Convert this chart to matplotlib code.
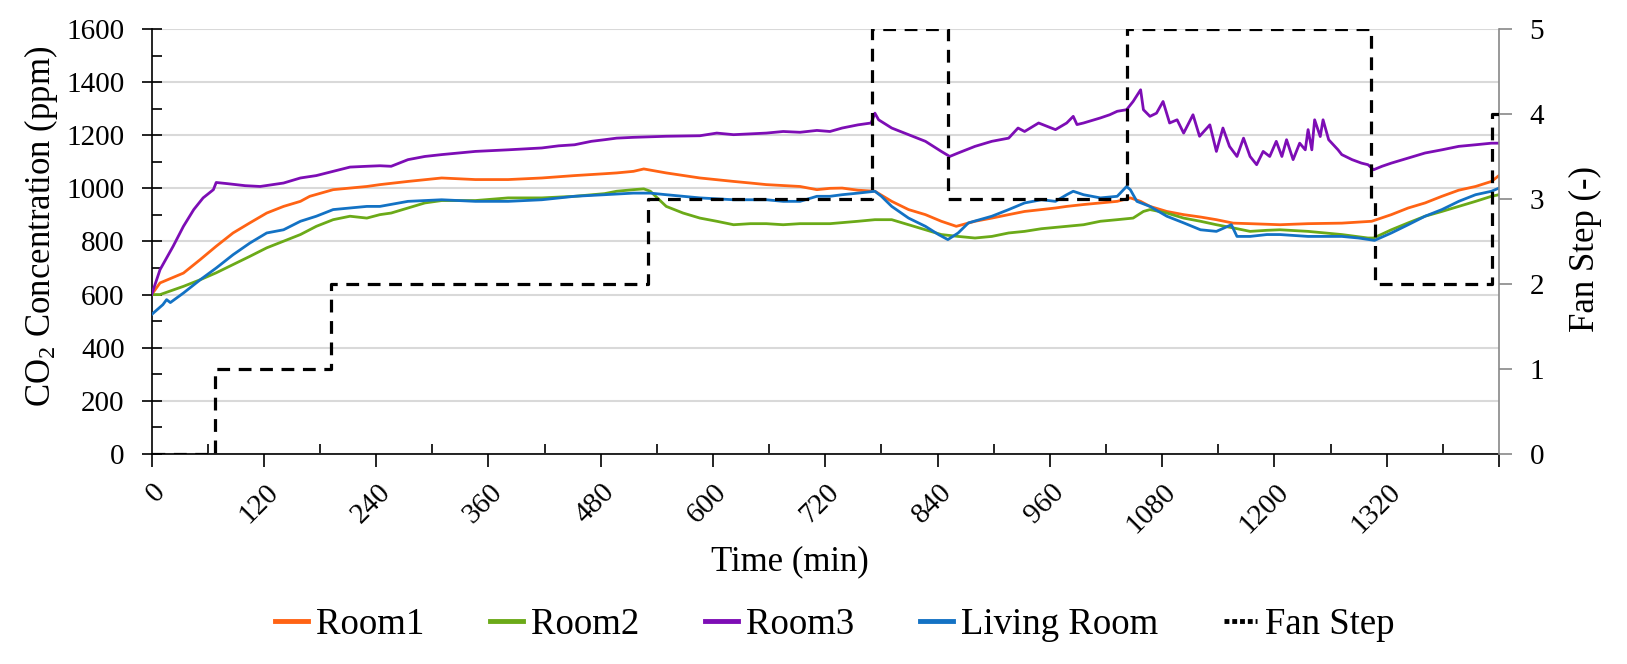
import matplotlib
matplotlib.use('Agg')
import matplotlib.pyplot as plt
from matplotlib.lines import Line2D
from matplotlib.ticker import MultipleLocator
from matplotlib.transforms import ScaledTranslation

# Times-like serif everywhere
plt.rcParams['font.family'] = 'Liberation Serif'
plt.rcParams['mathtext.fontset'] = 'custom'
plt.rcParams['mathtext.rm'] = 'Liberation Serif'
plt.rcParams['mathtext.default'] = 'regular'

# CO2 readings (min, ppm)
t_room1 = [0, 9, 34, 52, 69, 87, 105, 123, 141, 159,
           169, 194, 212, 230, 244, 274, 310, 346, 381, 417,
           452, 484, 497, 515, 526, 550, 586, 622, 640, 657,
           693, 711, 725, 738, 755, 773, 791, 809, 827, 844,
           860, 880, 898, 916, 933, 951, 966, 978, 996, 1014,
           1032, 1046, 1057, 1067, 1085, 1103, 1121, 1138, 1156, 1174,
           1206, 1236, 1272, 1304, 1325, 1343, 1361, 1379, 1397, 1415,
           1432, 1440]
room1 = [600, 644, 681, 732, 782, 832, 870, 907, 932, 951,
         970, 995, 1001, 1007, 1014, 1026, 1039, 1033, 1033, 1039,
         1048, 1055, 1058, 1064, 1073, 1058, 1039, 1026, 1020, 1014,
         1007, 995, 1000, 1001, 993, 989, 951, 920, 901, 876,
         857, 876, 888, 901, 913, 920, 926, 932, 939, 945,
         951, 964, 951, 932, 913, 901, 892, 882, 869, 867,
         863, 867, 869, 876, 901, 926, 945, 970, 993, 1007,
         1026, 1048]

t_room2 = [0, 9, 34, 52, 69, 87, 105, 123, 141, 159,
           176, 194, 212, 230, 244, 256, 274, 292, 310, 346,
           381, 417, 452, 484, 497, 515, 526, 533, 550, 568,
           586, 604, 622, 640, 657, 675, 693, 725, 755, 773,
           791, 809, 827, 844, 862, 880, 898, 916, 933, 951,
           978, 996, 1014, 1032, 1049, 1060, 1067, 1085, 1103, 1121,
           1138, 1156, 1174, 1192, 1206, 1236, 1272, 1300, 1306, 1325,
           1343, 1361, 1379, 1397, 1415, 1432, 1440]
room2 = [600, 600, 631, 656, 682, 713, 744, 776, 801, 826,
         857, 882, 895, 888, 901, 907, 926, 945, 954, 954,
         964, 964, 970, 980, 989, 995, 998, 989, 932, 907,
         888, 876, 863, 867, 867, 863, 867, 867, 876, 882,
         882, 863, 844, 826, 819, 813, 819, 832, 838, 848,
         857, 863, 876, 882, 888, 913, 920, 907, 888, 876,
         863, 851, 838, 842, 844, 838, 826, 813, 813, 844,
         870, 895, 913, 932, 951, 970, 976]

t_room3 = [0, 9, 23, 34, 45, 55, 66, 69, 80, 100,
           116, 141, 159, 176, 194, 212, 230, 244, 256, 274,
           292, 310, 328, 346, 381, 417, 435, 452, 470, 484,
           497, 515, 550, 586, 604, 622, 657, 675, 693, 711,
           725, 738, 755, 769, 773, 777, 791, 809, 827, 844,
           853, 862, 880, 898, 916, 926, 933, 948, 966, 978,
           985, 989, 996, 1014, 1024, 1032, 1042, 1049, 1057, 1060,
           1067, 1074, 1081, 1088, 1096, 1103, 1113, 1120, 1131, 1138,
           1145, 1152, 1160, 1167, 1174, 1181, 1188, 1195, 1202, 1208,
           1213, 1220, 1227, 1233, 1236, 1240, 1243, 1249, 1252, 1258,
           1268, 1272, 1283, 1293, 1300, 1306, 1315, 1325, 1343, 1361,
           1379, 1397, 1415, 1432, 1440]
room3 = [600, 694, 782, 857, 920, 964, 995, 1022, 1018, 1010,
         1007, 1020, 1039, 1048, 1064, 1080, 1083, 1085, 1083, 1108,
         1120, 1127, 1133, 1139, 1145, 1152, 1160, 1164, 1177, 1183,
         1189, 1192, 1196, 1198, 1208, 1202, 1208, 1214, 1211, 1218,
         1214, 1227, 1239, 1246, 1283, 1258, 1227, 1202, 1177, 1139,
         1120, 1133, 1158, 1177, 1189, 1227, 1214, 1246, 1221, 1246,
         1271, 1240, 1246, 1265, 1277, 1290, 1296, 1327, 1371, 1296,
         1271, 1283, 1327, 1246, 1258, 1208, 1277, 1196, 1239, 1139,
         1227, 1158, 1120, 1189, 1120, 1089, 1139, 1120, 1177, 1120,
         1183, 1108, 1170, 1145, 1221, 1145, 1258, 1195, 1258, 1183,
         1145, 1127, 1108, 1095, 1089, 1070, 1083, 1095, 1114, 1133,
         1145, 1158, 1164, 1170, 1170]

t_living = [0, 12, 16, 20, 34, 52, 69, 87, 105, 123,
            141, 159, 176, 194, 212, 230, 244, 274, 310, 346,
            381, 417, 452, 484, 515, 533, 550, 586, 622, 657,
            675, 693, 711, 725, 738, 755, 773, 780, 791, 809,
            827, 841, 851, 862, 873, 898, 916, 933, 951, 966,
            978, 985, 996, 1014, 1032, 1042, 1046, 1053, 1067, 1085,
            1103, 1121, 1138, 1154, 1160, 1174, 1192, 1206, 1236, 1272,
            1290, 1307, 1325, 1343, 1361, 1379, 1397, 1415, 1432, 1440]
living = [525, 562, 581, 570, 606, 656, 700, 750, 794, 832,
          844, 876, 895, 920, 926, 932, 932, 951, 957, 951,
          951, 957, 970, 976, 982, 982, 976, 964, 957, 957,
          951, 951, 970, 970, 976, 982, 989, 970, 932, 888,
          857, 826, 807, 832, 870, 895, 920, 945, 957, 951,
          976, 989, 976, 964, 970, 1007, 995, 951, 932, 895,
          870, 844, 838, 863, 819, 819, 826, 826, 819, 819,
          813, 804, 832, 863, 895, 920, 951, 976, 989, 1001]

# fan step setting (right axis)
t_fan = [0, 68, 192, 530, 770, 851, 1042, 1303, 1308, 1433, 1440]
fan_step = [0, 1, 2, 3, 5, 3, 5, 3, 2, 4, 4]

series_names = ['Room1', 'Room2', 'Room3', 'Living Room']
series_colors = ['#FF6314', '#6BAA18', '#7D0DB5', '#1372C4']

fig = plt.figure(figsize=(16.27, 6.64), dpi=100)
ax = fig.add_axes([0.0932, 0.3163, 0.8281, 0.6401])
ax2 = ax.twinx()

for tt, vv, c in zip([t_room1, t_room2, t_room3, t_living],
                     [room1, room2, room3, living], series_colors):
    ax.plot(tt, vv, color=c, lw=2.0, zorder=3)

ax2.plot(t_fan, fan_step, drawstyle='steps-post', color='black',
         lw=2.3, dashes=(4, 2.7), zorder=4)

# left axis
ax.set_xlim(0, 1440)
ax.set_ylim(0, 1600)
ax.yaxis.set_major_locator(MultipleLocator(200))
ax.yaxis.set_minor_locator(MultipleLocator(100))
ax.set_xticks(range(0, 1441, 120))
ax.set_xticklabels([str(v) for v in range(0, 1321, 120)] + [''])
ax.set_xticks(range(60, 1441, 120), minor=True)
ax.yaxis.grid(True, color='#d9d9d9', lw=1.5)
ax.set_axisbelow(True)

ax.tick_params(axis='y', which='major', direction='inout', length=15,
               width=1.2, labelsize=21, pad=12)
ax.tick_params(axis='y', which='minor', direction='in', length=7, width=1.2)
ax.tick_params(axis='x', which='major', direction='out', length=9,
               width=1.2, labelsize=21, pad=6)
ax.tick_params(axis='x', which='minor', direction='in', length=7, width=1.2)
shift = ScaledTranslation(0.10, -0.13, fig.dpi_scale_trans)
for lab in ax.get_xticklabels():
    lab.set_rotation(45)
    lab.set_ha('right')
    lab.set_va('center')
    lab.set_rotation_mode('anchor')
    lab.set_transform(lab.get_transform() + shift)

for s in ['top', 'right']:
    ax.spines[s].set_visible(False)
ax.spines['left'].set_linewidth(1.2)
ax.spines['bottom'].set_linewidth(1.2)

# right axis
ax2.set_ylim(0, 5)
ax2.set_yticks(range(0, 6))
ax2.tick_params(axis='y', direction='out', length=9, width=1.2,
                color='#888888', labelsize=21, pad=13)
for s in ['top', 'left', 'bottom']:
    ax2.spines[s].set_visible(False)
ax2.spines['right'].set_color('#888888')
ax2.spines['right'].set_linewidth(1.2)

ax.set_xlabel('Time (min)', fontsize=25, va='center')
ax.xaxis.set_label_coords(0.474, -0.254)
ax.set_ylabel('CO$_2$ Concentration (ppm)', fontsize=25, va='center')
ax.yaxis.set_label_coords(-0.082, 0.536)
ax2.set_ylabel('Fan Step (-)', fontsize=25, va='center')
ax2.yaxis.set_label_coords(1.064, 0.482)

handles = [Line2D([], [], color=c, lw=3.5) for c in series_colors]
handles.append(Line2D([], [], color='black', lw=3.5, dashes=(1, 0.6)))
fig.legend(handles, series_names + ['Fan Step'], loc='center',
           bbox_to_anchor=(0.513, 0.059), ncol=5, frameon=False,
           fontsize=26.5, handlelength=0.9, handletextpad=0.2,
           columnspacing=1.8)

fig.savefig('out.png', dpi=100)
